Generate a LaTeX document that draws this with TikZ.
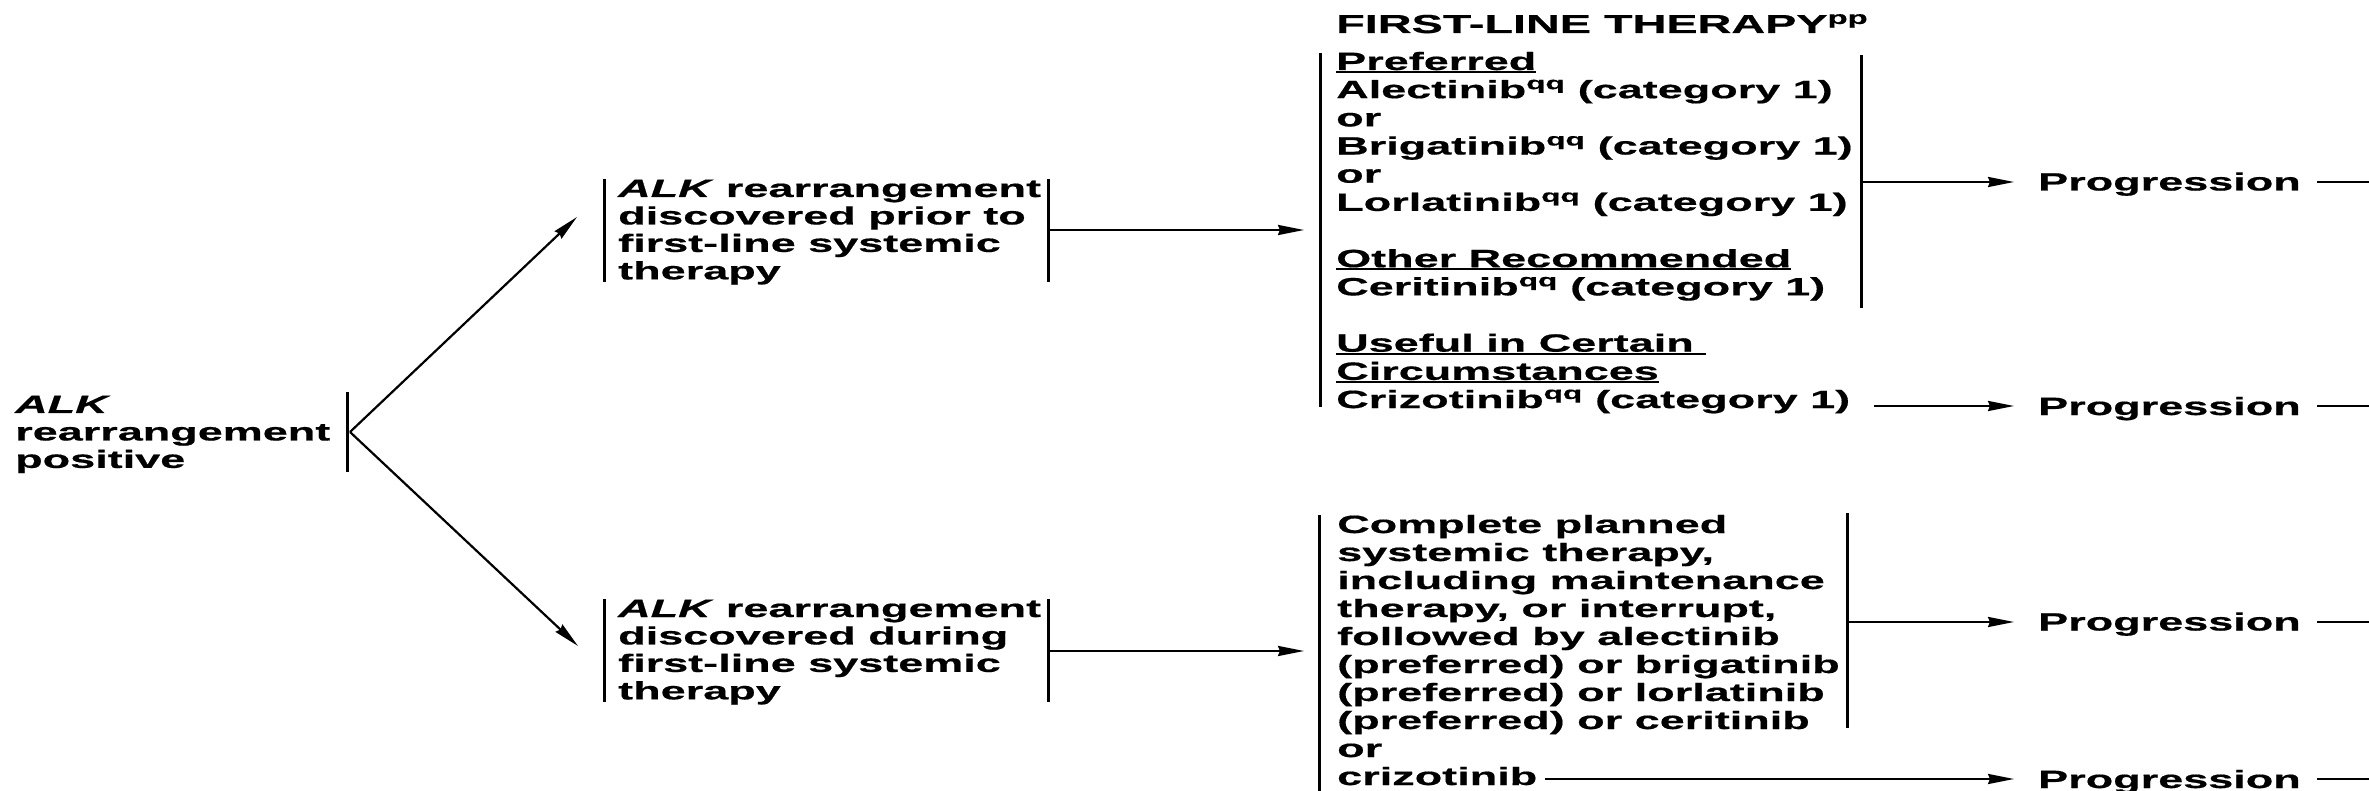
\documentclass[tikz,border=0pt]{standalone}
\usepackage{fontspec}
\setmainfont{Liberation Sans}[FakeStretch=1.8,BoldFeatures={FakeBold=0.6},BoldItalicFeatures={FakeBold=0.6}]
\usetikzlibrary{arrows.meta}
\newcommand{\ulx}[1]{\setbox0\hbox{#1}\rlap{\rule[-3pt]{\wd0}{2pt}}\box0}
\newcommand{\sq}{\textsuperscript{qq}}
\newcommand{\blk}[1]{\begin{tabular}[t]{@{}l@{}}#1\end{tabular}}
\begin{document}
\begin{tikzpicture}[x=1pt,y=-1pt,
  txt/.style={anchor=base west, inner sep=0pt, align=left},
  fa/.style={font=\bfseries\fontsize{25}{27.45}\selectfont},
  fb/.style={font=\bfseries\fontsize{25}{28.17}\selectfont},
  fc/.style={font=\bfseries\fontsize{25}{28}\selectfont},
  ft/.style={font=\bfseries\fontsize{26}{28}\selectfont},
  bar/.style={line width=3pt},
  ln/.style={line width=2.2pt},
  arr/.style={line width=2.2pt, -{Stealth[length=26pt,width=10pt,inset=2pt]}}]
\useasboundingbox (0,0) rectangle (2369,791);

% left block
\node[txt,fa] (alk) at (15,413) {\blk{\textit{ALK}\\rearrangement\\positive}};
\coordinate (alkT) at (347,392); \coordinate (alkB) at (347,472);
\draw[bar] (alkT) -- (alkB);
\coordinate (v) at (350,432);
\coordinate (a1) at (577,217);
\coordinate (a2) at (578,646);
\draw[arr] (v) -- (a1);
\draw[arr] (v) -- (a2);

% middle upper
\node[txt,fa] (m1) at (618,197) {\blk{\textit{ALK} rearrangement\\discovered prior to\\first-line systemic\\therapy}};
\coordinate (m1lt) at (604,179); \coordinate (m1lb) at (604,282);
\coordinate (m1rt) at (1048,179); \coordinate (m1rb) at (1048,282);
\draw[bar] (m1lt) -- (m1lb);
\draw[bar] (m1rt) -- (m1rb);
\coordinate (m1o) at (1048,230); \coordinate (u1i) at (1304,230);
\draw[arr] (m1o) -- (u1i);

% middle lower
\node[txt,fa] (m2) at (618,617) {\blk{\textit{ALK} rearrangement\\discovered during\\first-line systemic\\therapy}};
\coordinate (m2lt) at (604,599); \coordinate (m2lb) at (604,702);
\coordinate (m2rt) at (1048,599); \coordinate (m2rb) at (1048,702);
\draw[bar] (m2lt) -- (m2lb);
\draw[bar] (m2rt) -- (m2rb);
\coordinate (m2o) at (1048,651); \coordinate (l1i) at (1304,651);
\draw[arr] (m2o) -- (l1i);

% title
\node[txt,ft] (title) at (1336,33) {FIRST-LINE THERAPY\textsuperscript{pp}};

% upper right block
\node[txt,fb] (ur) at (1336,70) {\blk{\ulx{Preferred}\\
Alectinib\sq{} (category 1)\\
or\\
Brigatinib\sq{} (category 1)\\
or\\
Lorlatinib\sq{} (category 1)\\
\\
\ulx{Other Recommended}\\
Ceritinib\sq{} (category 1)\\
\\
\ulx{Useful in Certain\ }\\
\ulx{Circumstances}\\
Crizotinib\sq{} (category 1)}};
\coordinate (urlt) at (1320,53); \coordinate (urlb) at (1320,407);
\coordinate (urrt) at (1861,55); \coordinate (urrb) at (1861,308);
\draw[bar] (urlt) -- (urlb);
\draw[bar] (urrt) -- (urrb);

% lower right block
\node[txt,fc] (lr) at (1337,533) {\blk{Complete planned\\
systemic therapy,\\
including maintenance\\
therapy, or interrupt,\\
followed by alectinib\\
(preferred) or brigatinib\\
(preferred) or lorlatinib\\
(preferred) or ceritinib\\
or\\
crizotinib}};
\coordinate (lrlt) at (1319,515); \coordinate (lrlb) at (1319,800);
\coordinate (lrrt) at (1847,513); \coordinate (lrrb) at (1847,728);
\draw[bar] (lrlt) -- (lrlb);
\draw[bar] (lrrt) -- (lrrb);

% progression nodes
\node[txt,fc] (p1) at (2038,190.5) {Progression};
\node[txt,fc] (p2) at (2038,415) {Progression};
\node[txt,fc] (p3) at (2038,630.5) {Progression};
\node[txt,fc] (p4) at (2038,788) {Progression};

\coordinate (o1) at (1861,182); \coordinate (t1) at (2014,182);
\coordinate (o2) at (1874,406); \coordinate (t2) at (2014,406);
\coordinate (o3) at (1847,622); \coordinate (t3) at (2014,622);
\coordinate (o4) at (1545,779); \coordinate (t4) at (2014,779);
\draw[arr] (o1) -- (t1);
\draw[arr] (o2) -- (t2);
\draw[arr] (o3) -- (t3);
\draw[arr] (o4) -- (t4);

\coordinate (s1) at (2317,182); \coordinate (e1) at (2375,182);
\coordinate (s2) at (2317,406); \coordinate (e2) at (2375,406);
\coordinate (s3) at (2317,622); \coordinate (e3) at (2375,622);
\coordinate (s4) at (2317,779); \coordinate (e4) at (2375,779);
\draw[ln] (s1) -- (e1);
\draw[ln] (s2) -- (e2);
\draw[ln] (s3) -- (e3);
\draw[ln] (s4) -- (e4);
\end{tikzpicture}
\end{document}
